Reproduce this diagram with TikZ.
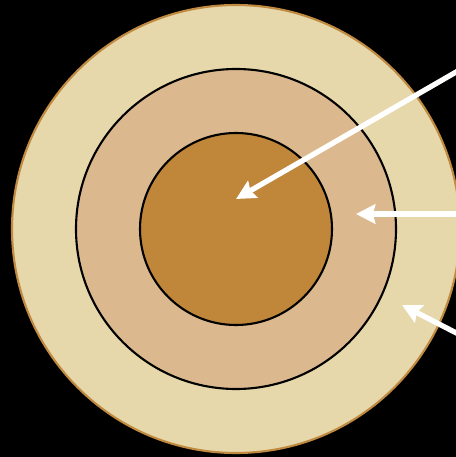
\documentclass[tikz,border=0pt]{standalone}
\usetikzlibrary{arrows.meta}

\definecolor{ringout}{HTML}{E6D8AA}
\definecolor{ringedge}{HTML}{C08A40}
\definecolor{ringmid}{HTML}{DCB88F}
\definecolor{ringcore}{HTML}{C0863A}

\begin{document}
\begin{tikzpicture}[x=0.02cm,y=0.02cm,line cap=round,line join=round,
    pointer/.style={draw=white,line width=3pt,line cap=butt,-{Stealth[length=11pt,width=11pt,inset=1.5pt]}}]
  \def\cx{236}
  \def\cy{228}
  \fill[black] (0,0) rectangle (456,457);
  \useasboundingbox (0,0) rectangle (456,457);
  \clip (0,0) rectangle (456,457);
  % rings
  \filldraw[fill=ringout,draw=ringedge,line width=1.2pt] (\cx,\cy) circle[radius=224];
  \filldraw[fill=ringmid,draw=black,line width=1.2pt] (\cx,\cy) circle[radius=160];
  \filldraw[fill=ringcore,draw=black,line width=1.2pt] (\cx,\cy) circle[radius=96];
  % arrow ends
  \coordinate (tailA) at (470,393);
  \coordinate (tipA) at (236,258);
  \coordinate (tailB) at (470,243);
  \coordinate (tipB) at (356,243);
  \coordinate (tailC) at (470,117);
  \coordinate (tipC) at (402,152);
  \draw[pointer] (tailA) -- (tipA);
  \draw[pointer] (tailB) -- (tipB);
  \draw[pointer] (tailC) -- (tipC);
\end{tikzpicture}
\end{document}
